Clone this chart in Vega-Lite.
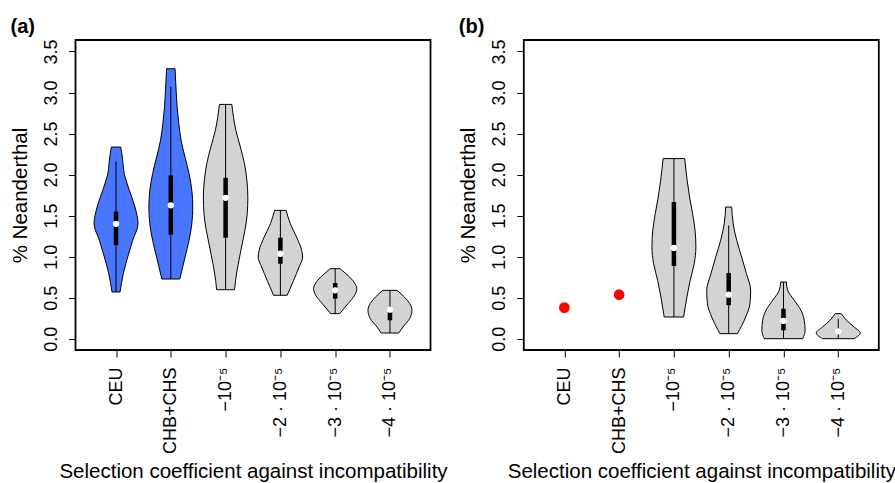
{
  "$schema": "https://vega.github.io/schema/vega-lite/v6.json",
  "padding": {"left": 9.5, "top": 16, "right": 5, "bottom": 0},
  "background": "white",
  "config": {
    "font": "Liberation Sans",
    "view": {"stroke": "black", "strokeWidth": 1.8},
    "axis": {
      "labelFont": "Liberation Sans", "titleFont": "Liberation Sans",
      "labelColor": "black", "titleColor": "black", "tickColor": "black",
      "domain": false, "grid": false, "titleFontWeight": "normal",
      "tickSize": 7, "tickWidth": 1
    },
    "title": {"font": "Liberation Sans", "fontSize": 20, "fontWeight": "bold", "color": "black", "anchor": "start", "frame": "bounds"}
  },
  "datasets": {
    "viol": [
      {"panel": "a", "cat": 1, "group": "obs", "v": 2.335, "lo": 0.914, "hi": 1.086},
      {"panel": "a", "cat": 1, "group": "obs", "v": 2.214, "lo": 0.885, "hi": 1.115},
      {"panel": "a", "cat": 1, "group": "obs", "v": 2.01, "lo": 0.849, "hi": 1.151},
      {"panel": "a", "cat": 1, "group": "obs", "v": 1.81, "lo": 0.758, "hi": 1.242},
      {"panel": "a", "cat": 1, "group": "obs", "v": 1.604, "lo": 0.654, "hi": 1.346},
      {"panel": "a", "cat": 1, "group": "obs", "v": 1.4, "lo": 0.599, "hi": 1.401},
      {"panel": "a", "cat": 1, "group": "obs", "v": 1.199, "lo": 0.696, "hi": 1.304},
      {"panel": "a", "cat": 1, "group": "obs", "v": 0.995, "lo": 0.787, "hi": 1.213},
      {"panel": "a", "cat": 1, "group": "obs", "v": 0.792, "lo": 0.867, "hi": 1.133},
      {"panel": "a", "cat": 1, "group": "obs", "v": 0.569, "lo": 0.927, "hi": 1.073},

      {"panel": "a", "cat": 2, "group": "obs", "v": 3.29, "lo": 1.923, "hi": 2.077},
      {"panel": "a", "cat": 2, "group": "obs", "v": 3.025, "lo": 1.903, "hi": 2.097},
      {"panel": "a", "cat": 2, "group": "obs", "v": 2.822, "lo": 1.885, "hi": 2.115},
      {"panel": "a", "cat": 2, "group": "obs", "v": 2.619, "lo": 1.854, "hi": 2.146},
      {"panel": "a", "cat": 2, "group": "obs", "v": 2.417, "lo": 1.812, "hi": 2.188},
      {"panel": "a", "cat": 2, "group": "obs", "v": 2.213, "lo": 1.741, "hi": 2.259},
      {"panel": "a", "cat": 2, "group": "obs", "v": 2.01, "lo": 1.667, "hi": 2.333},
      {"panel": "a", "cat": 2, "group": "obs", "v": 1.808, "lo": 1.617, "hi": 2.383},
      {"panel": "a", "cat": 2, "group": "obs", "v": 1.604, "lo": 1.599, "hi": 2.401},
      {"panel": "a", "cat": 2, "group": "obs", "v": 1.4, "lo": 1.617, "hi": 2.383},
      {"panel": "a", "cat": 2, "group": "obs", "v": 1.199, "lo": 1.667, "hi": 2.333},
      {"panel": "a", "cat": 2, "group": "obs", "v": 0.995, "lo": 1.74, "hi": 2.26},
      {"panel": "a", "cat": 2, "group": "obs", "v": 0.727, "lo": 1.836, "hi": 2.164},

      {"panel": "a", "cat": 3, "group": "sim", "v": 2.855, "lo": 2.887, "hi": 3.113},
      {"panel": "a", "cat": 3, "group": "sim", "v": 2.538, "lo": 2.812, "hi": 3.188},
      {"panel": "a", "cat": 3, "group": "sim", "v": 2.335, "lo": 2.73, "hi": 3.27},
      {"panel": "a", "cat": 3, "group": "sim", "v": 2.131, "lo": 2.655, "hi": 3.345},
      {"panel": "a", "cat": 3, "group": "sim", "v": 1.929, "lo": 2.612, "hi": 3.388},
      {"panel": "a", "cat": 3, "group": "sim", "v": 1.726, "lo": 2.594, "hi": 3.406},
      {"panel": "a", "cat": 3, "group": "sim", "v": 1.523, "lo": 2.605, "hi": 3.395},
      {"panel": "a", "cat": 3, "group": "sim", "v": 1.32, "lo": 2.648, "hi": 3.352},
      {"panel": "a", "cat": 3, "group": "sim", "v": 1.117, "lo": 2.709, "hi": 3.291},
      {"panel": "a", "cat": 3, "group": "sim", "v": 0.913, "lo": 2.769, "hi": 3.231},
      {"panel": "a", "cat": 3, "group": "sim", "v": 0.711, "lo": 2.818, "hi": 3.182},
      {"panel": "a", "cat": 3, "group": "sim", "v": 0.597, "lo": 2.836, "hi": 3.164},

      {"panel": "a", "cat": 4, "group": "sim", "v": 1.564, "lo": 3.896, "hi": 4.104},
      {"panel": "a", "cat": 4, "group": "sim", "v": 1.4, "lo": 3.818, "hi": 4.182},
      {"panel": "a", "cat": 4, "group": "sim", "v": 1.239, "lo": 3.705, "hi": 4.295},
      {"panel": "a", "cat": 4, "group": "sim", "v": 1.077, "lo": 3.612, "hi": 4.388},
      {"panel": "a", "cat": 4, "group": "sim", "v": 0.995, "lo": 3.594, "hi": 4.406},
      {"panel": "a", "cat": 4, "group": "sim", "v": 0.873, "lo": 3.659, "hi": 4.341},
      {"panel": "a", "cat": 4, "group": "sim", "v": 0.711, "lo": 3.758, "hi": 4.242},
      {"panel": "a", "cat": 4, "group": "sim", "v": 0.529, "lo": 3.876, "hi": 4.124},

      {"panel": "a", "cat": 5, "group": "sim", "v": 0.853, "lo": 4.909, "hi": 5.091},
      {"panel": "a", "cat": 5, "group": "sim", "v": 0.792, "lo": 4.803, "hi": 5.197},
      {"panel": "a", "cat": 5, "group": "sim", "v": 0.711, "lo": 4.681, "hi": 5.319},
      {"panel": "a", "cat": 5, "group": "sim", "v": 0.609, "lo": 4.605, "hi": 5.395},
      {"panel": "a", "cat": 5, "group": "sim", "v": 0.529, "lo": 4.645, "hi": 5.355},
      {"panel": "a", "cat": 5, "group": "sim", "v": 0.426, "lo": 4.767, "hi": 5.233},
      {"panel": "a", "cat": 5, "group": "sim", "v": 0.305, "lo": 4.918, "hi": 5.082},

      {"panel": "a", "cat": 6, "group": "sim", "v": 0.589, "lo": 5.872, "hi": 6.128},
      {"panel": "a", "cat": 6, "group": "sim", "v": 0.508, "lo": 5.736, "hi": 6.264},
      {"panel": "a", "cat": 6, "group": "sim", "v": 0.346, "lo": 5.599, "hi": 6.401},
      {"panel": "a", "cat": 6, "group": "sim", "v": 0.244, "lo": 5.641, "hi": 6.359},
      {"panel": "a", "cat": 6, "group": "sim", "v": 0.143, "lo": 5.763, "hi": 6.237},
      {"panel": "a", "cat": 6, "group": "sim", "v": 0.069, "lo": 5.84, "hi": 6.16},

      {"panel": "b", "cat": 3, "group": "sim", "v": 2.195, "lo": 2.803, "hi": 3.197},
      {"panel": "b", "cat": 3, "group": "sim", "v": 1.929, "lo": 2.758, "hi": 3.242},
      {"panel": "b", "cat": 3, "group": "sim", "v": 1.726, "lo": 2.714, "hi": 3.286},
      {"panel": "b", "cat": 3, "group": "sim", "v": 1.523, "lo": 2.659, "hi": 3.341},
      {"panel": "b", "cat": 3, "group": "sim", "v": 1.32, "lo": 2.614, "hi": 3.386},
      {"panel": "b", "cat": 3, "group": "sim", "v": 1.117, "lo": 2.599, "hi": 3.401},
      {"panel": "b", "cat": 3, "group": "sim", "v": 0.913, "lo": 2.63, "hi": 3.37},
      {"panel": "b", "cat": 3, "group": "sim", "v": 0.711, "lo": 2.703, "hi": 3.297},
      {"panel": "b", "cat": 3, "group": "sim", "v": 0.508, "lo": 2.763, "hi": 3.237},
      {"panel": "b", "cat": 3, "group": "sim", "v": 0.264, "lo": 2.823, "hi": 3.177},

      {"panel": "b", "cat": 4, "group": "sim", "v": 1.604, "lo": 3.945, "hi": 4.055},
      {"panel": "b", "cat": 4, "group": "sim", "v": 1.4, "lo": 3.918, "hi": 4.082},
      {"panel": "b", "cat": 4, "group": "sim", "v": 1.199, "lo": 3.854, "hi": 4.146},
      {"panel": "b", "cat": 4, "group": "sim", "v": 0.995, "lo": 3.763, "hi": 4.237},
      {"panel": "b", "cat": 4, "group": "sim", "v": 0.792, "lo": 3.676, "hi": 4.324},
      {"panel": "b", "cat": 4, "group": "sim", "v": 0.589, "lo": 3.599, "hi": 4.401},
      {"panel": "b", "cat": 4, "group": "sim", "v": 0.426, "lo": 3.612, "hi": 4.388},
      {"panel": "b", "cat": 4, "group": "sim", "v": 0.264, "lo": 3.69, "hi": 4.31},
      {"panel": "b", "cat": 4, "group": "sim", "v": 0.061, "lo": 3.84, "hi": 4.16},

      {"panel": "b", "cat": 5, "group": "sim", "v": 0.69, "lo": 4.949, "hi": 5.051},
      {"panel": "b", "cat": 5, "group": "sim", "v": 0.589, "lo": 4.923, "hi": 5.077},
      {"panel": "b", "cat": 5, "group": "sim", "v": 0.468, "lo": 4.803, "hi": 5.197},
      {"panel": "b", "cat": 5, "group": "sim", "v": 0.346, "lo": 4.681, "hi": 5.319},
      {"panel": "b", "cat": 5, "group": "sim", "v": 0.224, "lo": 4.621, "hi": 5.379},
      {"panel": "b", "cat": 5, "group": "sim", "v": 0.102, "lo": 4.605, "hi": 5.395},
      {"panel": "b", "cat": 5, "group": "sim", "v": 0.0, "lo": 4.65, "hi": 5.35},

      {"panel": "b", "cat": 6, "group": "sim", "v": 0.305, "lo": 5.945, "hi": 6.055},
      {"panel": "b", "cat": 6, "group": "sim", "v": 0.224, "lo": 5.849, "hi": 6.151},
      {"panel": "b", "cat": 6, "group": "sim", "v": 0.143, "lo": 5.712, "hi": 6.288},
      {"panel": "b", "cat": 6, "group": "sim", "v": 0.069, "lo": 5.599, "hi": 6.401},
      {"panel": "b", "cat": 6, "group": "sim", "v": 0.0, "lo": 5.712, "hi": 6.288}
    ],
    "box": [
      {"panel": "a", "pos": 1, "min": 0.569, "q1": 1.14, "med": 1.4, "q3": 1.55, "max": 2.16},
      {"panel": "a", "pos": 2, "min": 0.727, "q1": 1.267, "med": 1.625, "q3": 1.99, "max": 3.07},
      {"panel": "a", "pos": 3, "min": 0.597, "q1": 1.23, "med": 1.717, "q3": 1.961, "max": 2.855},
      {"panel": "a", "pos": 4, "min": 0.529, "q1": 0.913, "med": 1.035, "q3": 1.23, "max": 1.564},
      {"panel": "a", "pos": 5, "min": 0.305, "q1": 0.487, "med": 0.589, "q3": 0.678, "max": 0.853},
      {"panel": "a", "pos": 6, "min": 0.069, "q1": 0.224, "med": 0.353, "q3": 0.36, "max": 0.589},
      {"panel": "b", "pos": 3, "min": 0.264, "q1": 0.886, "med": 1.105, "q3": 1.665, "max": 2.195},
      {"panel": "b", "pos": 4, "min": 0.061, "q1": 0.407, "med": 0.536, "q3": 0.8, "max": 1.38},
      {"panel": "b", "pos": 5, "min": 0.0, "q1": 0.102, "med": 0.216, "q3": 0.365, "max": 0.69},
      {"panel": "b", "pos": 6, "min": 0.0, "q1": 0.07, "med": 0.09, "q3": 0.12, "max": 0.24}
    ],
    "obs": [
      {"panel": "b", "pos": 1, "v": 0.378},
      {"panel": "b", "pos": 2, "v": 0.536}
    ]
  },
  "spacing": 93.3,
  "bounds": "flush",
  "hconcat": [
    {
      "width": 355,
      "height": 310,
      "title": {"text": "(a)", "offset": 1.5},
      "layer": [
        {
          "data": {"name": "viol"},
          "transform": [{"filter": "datum.panel == 'a'"}],
          "mark": {"type": "area", "orient": "horizontal", "stroke": "black", "strokeWidth": 1, "interpolate": "monotone", "fillOpacity": 1},
          "encoding": {
            "y": {"field": "v", "type": "quantitative", "scale": {"domain": [-0.138, 3.64], "nice": false, "zero": false},
                  "axis": {"values": [0, 0.5, 1, 1.5, 2, 2.5, 3, 3.5], "format": ".1f", "labelAngle": -90, "labelFontSize": 18, "labelPadding": 8, "title": "% Neanderthal", "titleFontSize": 20.5, "titlePadding": 12}},
            "x": {"field": "lo", "type": "quantitative", "scale": {"domain": [0.26, 6.74], "nice": false, "zero": false},
                  "axis": {"values": [1, 2, 3, 4, 5, 6], "labelExpr": "['CEU','CHB+CHS','−10⁻⁵','−2 · 10⁻⁵','−3 · 10⁻⁵','−4 · 10⁻⁵'][datum.value-1]", "labelAngle": -90, "labelFontSize": 18, "labelPadding": 10, "title": "Selection coefficient against incompatibility", "titleFontSize": 20.5, "titlePadding": 8}},
            "x2": {"field": "hi"},
            "detail": {"field": "cat", "type": "nominal"},
            "color": {"field": "group", "type": "nominal", "scale": {"domain": ["obs", "sim"], "range": ["#4876FF", "#D3D3D3"]}, "legend": null}
          }
        },
        {
          "data": {"name": "box"},
          "transform": [{"filter": "datum.panel == 'a'"}],
          "mark": {"type": "rule", "color": "black", "strokeWidth": 1},
          "encoding": {
            "x": {"field": "pos", "type": "quantitative"},
            "y": {"field": "min", "type": "quantitative"},
            "y2": {"field": "max"}
          }
        },
        {
          "data": {"name": "box"},
          "transform": [{"filter": "datum.panel == 'a'"}],
          "mark": {"type": "rule", "color": "black", "strokeWidth": 4.5},
          "encoding": {
            "x": {"field": "pos", "type": "quantitative"},
            "y": {"field": "q1", "type": "quantitative"},
            "y2": {"field": "q3"}
          }
        },
        {
          "data": {"name": "box"},
          "transform": [{"filter": "datum.panel == 'a'"}],
          "mark": {"type": "circle", "color": "white", "opacity": 1, "size": 40},
          "encoding": {
            "x": {"field": "pos", "type": "quantitative"},
            "y": {"field": "med", "type": "quantitative"}
          }
        }
      ]
    },
    {
      "width": 355,
      "height": 310,
      "title": {"text": "(b)", "offset": 1.5},
      "layer": [
        {
          "data": {"name": "viol"},
          "transform": [{"filter": "datum.panel == 'b'"}],
          "mark": {"type": "area", "orient": "horizontal", "stroke": "black", "strokeWidth": 1, "interpolate": "monotone", "fillOpacity": 1},
          "encoding": {
            "y": {"field": "v", "type": "quantitative", "scale": {"domain": [-0.138, 3.64], "nice": false, "zero": false},
                  "axis": {"values": [0, 0.5, 1, 1.5, 2, 2.5, 3, 3.5], "format": ".1f", "labelAngle": -90, "labelFontSize": 18, "labelPadding": 8, "title": "% Neanderthal", "titleFontSize": 20.5, "titlePadding": 12}},
            "x": {"field": "lo", "type": "quantitative", "scale": {"domain": [0.26, 6.74], "nice": false, "zero": false},
                  "axis": {"values": [1, 2, 3, 4, 5, 6], "labelExpr": "['CEU','CHB+CHS','−10⁻⁵','−2 · 10⁻⁵','−3 · 10⁻⁵','−4 · 10⁻⁵'][datum.value-1]", "labelAngle": -90, "labelFontSize": 18, "labelPadding": 10, "title": "Selection coefficient against incompatibility", "titleFontSize": 20.5, "titlePadding": 8}},
            "x2": {"field": "hi"},
            "detail": {"field": "cat", "type": "nominal"},
            "color": {"field": "group", "type": "nominal", "scale": {"domain": ["obs", "sim"], "range": ["#4876FF", "#D3D3D3"]}, "legend": null}
          }
        },
        {
          "data": {"name": "box"},
          "transform": [{"filter": "datum.panel == 'b'"}],
          "mark": {"type": "rule", "color": "black", "strokeWidth": 1},
          "encoding": {
            "x": {"field": "pos", "type": "quantitative"},
            "y": {"field": "min", "type": "quantitative"},
            "y2": {"field": "max"}
          }
        },
        {
          "data": {"name": "box"},
          "transform": [{"filter": "datum.panel == 'b'"}],
          "mark": {"type": "rule", "color": "black", "strokeWidth": 4.5},
          "encoding": {
            "x": {"field": "pos", "type": "quantitative"},
            "y": {"field": "q1", "type": "quantitative"},
            "y2": {"field": "q3"}
          }
        },
        {
          "data": {"name": "box"},
          "transform": [{"filter": "datum.panel == 'b'"}],
          "mark": {"type": "circle", "color": "white", "opacity": 1, "size": 40},
          "encoding": {
            "x": {"field": "pos", "type": "quantitative"},
            "y": {"field": "med", "type": "quantitative"}
          }
        },
        {
          "data": {"name": "obs"},
          "mark": {"type": "circle", "color": "#FF0000", "opacity": 1, "size": 115},
          "encoding": {
            "x": {"field": "pos", "type": "quantitative"},
            "y": {"field": "v", "type": "quantitative"}
          }
        }
      ]
    }
  ]
}
